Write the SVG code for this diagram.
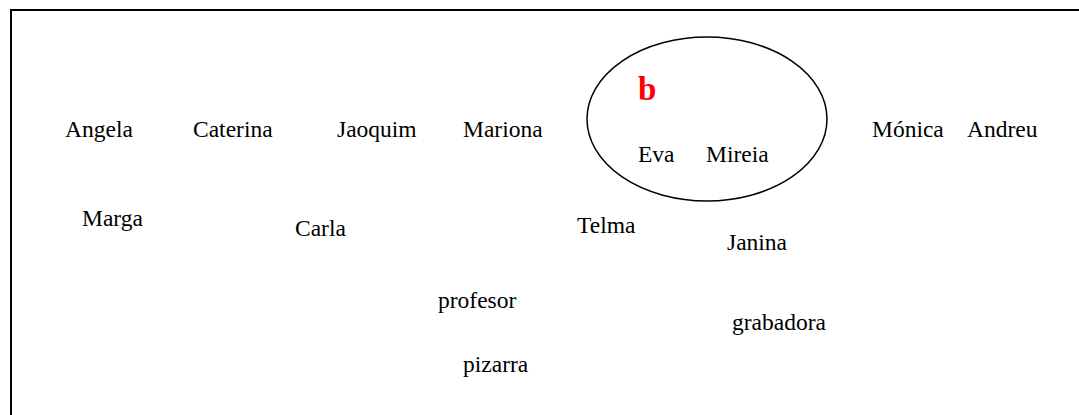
<svg xmlns="http://www.w3.org/2000/svg" width="1079" height="415" viewBox="0 0 1079 415">
  <style>
    .name { font-family: "Liberation Serif", "Times New Roman", serif; font-size: 23.5px; fill: #000; }
    .tag { font-family: "Liberation Serif", "Times New Roman", serif; font-size: 33px; font-weight: bold; fill: #ff0000; }
    .frame { fill: none; stroke: #000; stroke-width: 2; }
    .group { fill: none; stroke: #000; stroke-width: 1.5; }
  </style>
  <rect width="1079" height="415" fill="#fff"/>
  <!-- outer frame, open past the right and bottom edges -->
  <rect class="frame" x="11" y="10" width="1100" height="430"/>

  <g id="connectors"></g>

  <!-- group b -->
  <g id="group-b">
    <ellipse class="group" cx="707" cy="119" rx="120" ry="82"/>
    <text class="tag" x="638" y="100">b</text>
  </g>

  <!-- first row -->
  <g id="angela"><text class="name" x="65" y="137">Angela</text></g>
  <g id="caterina"><text class="name" x="193" y="137">Caterina</text></g>
  <g id="jaoquim"><text class="name" x="337" y="137">Jaoquim</text></g>
  <g id="mariona"><text class="name" x="463" y="137">Mariona</text></g>
  <g id="eva"><text class="name" x="638" y="162">Eva</text></g>
  <g id="mireia"><text class="name" x="706" y="162">Mireia</text></g>
  <g id="monica"><text class="name" x="872" y="137">Mónica</text></g>
  <g id="andreu"><text class="name" x="967" y="137">Andreu</text></g>

  <!-- second row -->
  <g id="marga"><text class="name" x="82" y="226">Marga</text></g>
  <g id="carla"><text class="name" x="295" y="236">Carla</text></g>
  <g id="telma"><text class="name" x="577" y="233">Telma</text></g>
  <g id="janina"><text class="name" x="727" y="250">Janina</text></g>

  <!-- objects -->
  <g id="profesor"><text class="name" x="438" y="308">profesor</text></g>
  <g id="grabadora"><text class="name" x="732" y="330">grabadora</text></g>
  <g id="pizarra"><text class="name" x="463" y="372">pizarra</text></g>
</svg>
